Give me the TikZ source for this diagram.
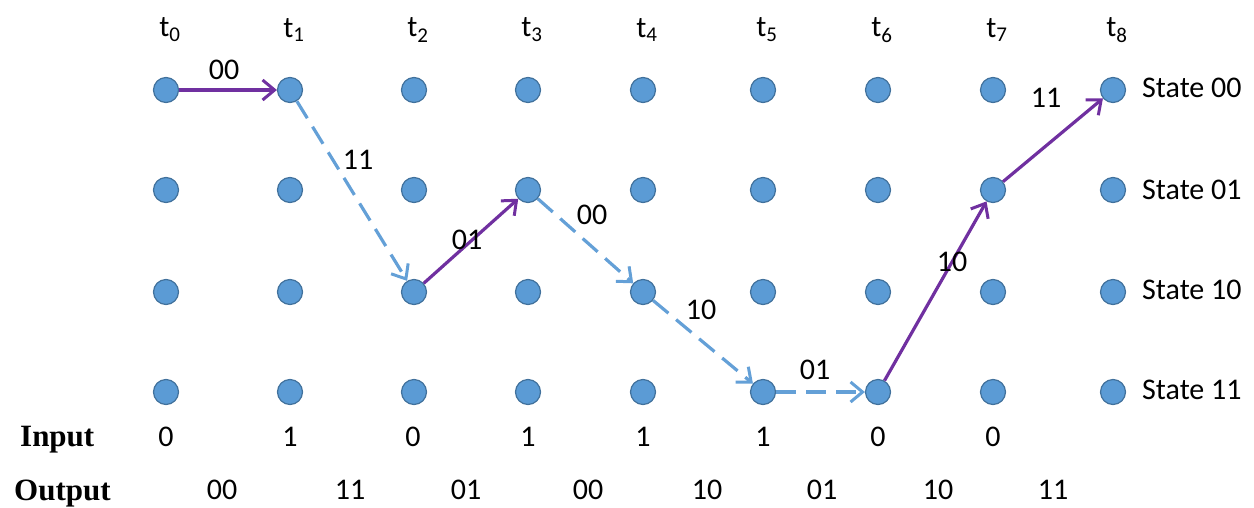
\documentclass[tikz,border=0pt]{standalone}
\usepackage{fontspec}
\setmainfont{Carlito}
\newfontfamily\serifl{Liberation Serif}
\usetikzlibrary{arrows.meta}
\definecolor{dotfill}{RGB}{91,155,213}
\definecolor{dotdraw}{RGB}{65,113,156}
\definecolor{pathpurple}{RGB}{112,48,160}
\definecolor{dashblue}{RGB}{100,160,215}
\tikzset{
  dot/.style={circle,fill=dotfill,draw=dotdraw,line width=1.2pt,minimum size=25pt,inner sep=0pt},
  txt/.style={font=\fontsize{30}{34}\selectfont,inner sep=0pt},
  rowlab/.style={font=\fontsize{31}{34}\selectfont\serifl\bfseries,inner sep=0pt,anchor=west},
  solidedge/.style={draw=pathpurple,line width=3.2pt,-{Straight Barb[length=12pt,width=20pt,line width=3pt]}},
  dashedge/.style={draw=dashblue,line width=3.2pt,dash pattern=on 20pt off 10pt,-{Straight Barb[length=12pt,width=20pt,line width=3pt]}},
}
\begin{document}
\begin{tikzpicture}[x=1pt,y=-1pt]
\useasboundingbox (0,0) rectangle (1254,507);
\foreach \i/\x in {0/166,1/290,2/414,3/528,4/643,5/763,6/878,7/993,8/1113}{
  \node[txt] (t\i) at (\x+4,30) {t\textsubscript{\i}};
  \foreach \r/\y in {0/90,1/190,2/292,3/392}{
    \node[dot] (n\i\r) at (\x,\y) {};
  }
}
% state labels
\node[txt,anchor=west] (s0) at (1142,88) {State 00};
\node[txt,anchor=west] (s1) at (1142,190) {State 01};
\node[txt,anchor=west] (s2) at (1142,290) {State 10};
\node[txt,anchor=west] (s3) at (1142,390) {State 11};
% path
\draw[solidedge] (n00) -- (n10);
\draw[dashedge] (n10) -- (n22);
\draw[solidedge] (n22) -- (n31);
\draw[dashedge] (n31) -- (n42);
\draw[dashedge] (n42) -- (n53);
\draw[dashedge] (n53) -- (n63);
\draw[solidedge] (n63) -- (n71);
\draw[solidedge] (n71) -- (n80);
% edge labels
\node[txt] (e1) at (224,70) {00};
\node[txt] (e2) at (358,160) {11};
\node[txt] (e3) at (467,240) {01};
\node[txt] (e4) at (592,215) {00};
\node[txt] (e5) at (701,310) {10};
\node[txt] (e6) at (815,370) {01};
\node[txt] (e7) at (952,262) {10};
\node[txt] (e8) at (1046,98) {11};
% input / output
\node[rowlab] (inlab) at (20,440) {Input};
\node[rowlab] (outlab) at (14,494) {Output};
\foreach \x/\v [count=\k] in {166/0,290/1,413/0,528/1,643/1,763/1,878/0,993/0}{
  \node[txt] (in\k) at (\x,437) {\v};
}
\foreach \x/\v [count=\k] in {222/00,350/11,466/01,588/00,707/10,822/01,938/10,1053/11}{
  \node[txt] (out\k) at (\x,490) {\v};
}
\end{tikzpicture}
\end{document}
